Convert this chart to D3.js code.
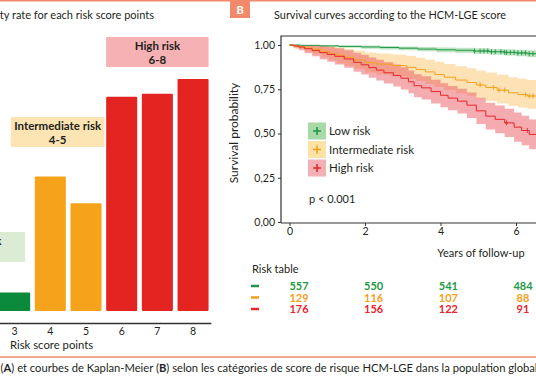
<!DOCTYPE html>
<html>
<head>
<meta charset="utf-8">
<script src="https://cdn.jsdelivr.net/npm/d3@7"></script>
<style>
  html, body { margin: 0; padding: 0; background: #fff; overflow: hidden; }
  svg { display: block; font-family: Lato, 'Open Sans', sans-serif; }
</style>
</head>
<body>
<div id="chart"></div>
<script>
// panel A: rate per risk score point
const scorePoints = ['3', '4', '5', '6', '7', '8'];
const mortalityRate = [2.5, 18.1, 14.5, 28.8, 29.2, 31.2];
const scoreGroup = ['low', 'intermediate', 'intermediate', 'high', 'high', 'high'];
const groupNames = ['Low risk', 'Intermediate risk', 'High risk'];
const groupRanges = ['0-3', '4-5', '6-8'];

// panel B: Kaplan-Meier curves (time in years, survival, 95% CI)
const lowTime = [0, 0.3, 0.8, 1.3, 1.9, 2.4, 2.9, 3.4, 3.9, 4.4, 4.9, 5.3, 5.7, 6.0, 6.3, 6.6];
const lowSurv = [1, 0.998, 0.995, 0.992, 0.989, 0.986, 0.982, 0.977, 0.973, 0.97, 0.966, 0.962, 0.958, 0.955, 0.951, 0.947];
const lowLower = [1, 0.993, 0.988, 0.984, 0.979, 0.975, 0.97, 0.964, 0.959, 0.955, 0.95, 0.945, 0.94, 0.936, 0.931, 0.926];
const lowUpper = [1, 1, 1, 0.999, 0.997, 0.995, 0.992, 0.989, 0.986, 0.984, 0.981, 0.978, 0.975, 0.973, 0.97, 0.967];
const lowCensor = [4.9, 5.05, 5.15, 5.25, 5.35, 5.45, 5.6, 5.7, 5.75, 5.85, 5.95, 6.05, 6.15, 6.25, 6.35, 6.45, 6.55];

const intTime = [0, 0.15, 0.4, 0.62, 0.85, 1.05, 1.25, 1.45, 1.7, 2.0, 2.3, 2.7, 3.1, 3.35, 3.6, 3.85, 4.1, 4.4, 4.7, 4.95, 5.2, 5.5, 5.8, 6.05, 6.3, 6.6];
const intSurv = [1, 0.992, 0.984, 0.976, 0.965, 0.953, 0.942, 0.93, 0.915, 0.9, 0.892, 0.884, 0.874, 0.862, 0.848, 0.833, 0.818, 0.802, 0.788, 0.774, 0.76, 0.745, 0.73, 0.72, 0.712, 0.706];
const intLower = [1, 0.978, 0.962, 0.948, 0.93, 0.912, 0.897, 0.882, 0.864, 0.845, 0.834, 0.823, 0.81, 0.796, 0.78, 0.763, 0.746, 0.728, 0.713, 0.698, 0.684, 0.67, 0.656, 0.647, 0.64, 0.635];
const intUpper = [1, 1, 1, 1, 0.998, 0.992, 0.985, 0.978, 0.968, 0.958, 0.952, 0.946, 0.938, 0.928, 0.917, 0.905, 0.893, 0.88, 0.868, 0.856, 0.845, 0.832, 0.818, 0.809, 0.802, 0.797];
const intCensor = [5.05, 5.4, 5.55, 5.7, 6.25, 6.35, 6.45];

const highTime = [0, 0.1, 0.25, 0.4, 0.6, 0.8, 1.0, 1.2, 1.45, 1.7, 1.9, 2.1, 2.3, 2.5, 2.75, 2.95, 3.15, 3.3, 3.5, 3.75, 4.0, 4.2, 4.45, 4.7, 4.95, 5.2, 5.45, 5.7, 5.95, 6.15, 6.35, 6.6];
const highSurv = [1, 0.995, 0.988, 0.979, 0.968, 0.957, 0.947, 0.936, 0.921, 0.902, 0.888, 0.872, 0.858, 0.843, 0.828, 0.812, 0.792, 0.77, 0.758, 0.737, 0.716, 0.7, 0.683, 0.66, 0.628, 0.598, 0.58, 0.56, 0.536, 0.517, 0.495, 0.475];
const highLower = [1, 0.985, 0.97, 0.954, 0.936, 0.92, 0.905, 0.89, 0.871, 0.849, 0.833, 0.815, 0.799, 0.783, 0.766, 0.749, 0.728, 0.705, 0.692, 0.67, 0.648, 0.631, 0.613, 0.588, 0.554, 0.522, 0.502, 0.48, 0.454, 0.434, 0.411, 0.389];
const highUpper = [1, 1, 1, 1, 1, 0.994, 0.989, 0.982, 0.971, 0.955, 0.943, 0.929, 0.917, 0.903, 0.89, 0.875, 0.856, 0.835, 0.824, 0.804, 0.784, 0.769, 0.753, 0.732, 0.702, 0.674, 0.658, 0.64, 0.618, 0.6, 0.579, 0.561];
const highCensor = [5.75, 6.3];

const yearTicks = [0, 2, 4, 6, 8];
const survTicks = [0, 0.25, 0.5, 0.75, 1];
const survTickLabels = ['0,00', '0,25', '0,50', '0,75', '1.00'];

const riskTimes = [0, 2, 4, 6];
const lowAtRisk = [557, 550, 541, 484];
const intAtRisk = [129, 116, 107, 88];
const highAtRisk = [176, 156, 122, 91];

const WIDTH = 536;
const HEIGHT = 386;
const frameColor = '#f08a6a';
const inkColor = '#231f20';

const barColor = { low: '#0b8a3b', intermediate: '#f5a31b', high: '#e42421' };
const boxColor = { low: '#dcebd3', intermediate: '#fde5b3', high: '#f5b1b4' };
const lineColor = { low: '#1f9a45', intermediate: '#f6a01a', high: '#e8262b' };
const bandColor = { low: '#5cb868', intermediate: '#fbc56b', high: '#ea5a63' };
const keyColor = { low: '#a9d8a9', intermediate: '#fde2a6', high: '#f4b0b4' };

const svg = d3.select('#chart').append('svg').attr('width', WIDTH).attr('height', HEIGHT);

// frame lines and caption
svg.append('line').attr('x1', 0).attr('x2', WIDTH).attr('y1', 0.75).attr('y2', 0.75)
  .attr('stroke', frameColor).attr('stroke-width', 1.5);
svg.append('line').attr('x1', 0).attr('x2', WIDTH).attr('y1', 357).attr('y2', 357)
  .attr('stroke', frameColor).attr('stroke-width', 1.5);

const caption = svg.append('text').attr('x', 0.5).attr('y', 372)
  .attr('font-size', 11.2).attr('fill', inkColor);
caption.append('tspan').text('(');
caption.append('tspan').attr('font-weight', 700).text('A');
caption.append('tspan').text(') et courbes de Kaplan-Meier (');
caption.append('tspan').attr('font-weight', 700).text('B');
caption.append('tspan').text(') selon les catégories de score de risque HCM-LGE dans la population globale');

// ---------- panel A ----------
const gA = svg.append('g');

gA.append('text').attr('x', 154).attr('y', 19).attr('text-anchor', 'end')
  .attr('font-size', 11).attr('fill', inkColor)
  .text('Mortality rate for each risk score points');

const xBar = d3.scaleBand().domain(scorePoints).range([-3.2, 210.9])
  .paddingInner(0.13).paddingOuter(0.065);
const yBar = d3.scaleLinear().domain([0, 32]).range([311, 73]);

const barData = scorePoints.map((p, i) => ({ point: p, value: mortalityRate[i], group: scoreGroup[i] }));

gA.append('g').selectAll('rect').data(barData).join('rect')
  .attr('x', (d) => xBar(d.point))
  .attr('y', (d) => yBar(d.value))
  .attr('width', xBar.bandwidth())
  .attr('height', (d) => yBar(0) - yBar(d.value))
  .attr('rx', 1)
  .attr('fill', (d) => barColor[d.group]);

const axisA = gA.append('g').attr('transform', 'translate(0, 323)')
  .call(d3.axisBottom(xBar).tickSize(0).tickPadding(5));
axisA.select('.domain').attr('stroke', '#333').attr('stroke-width', 1.3);
axisA.selectAll('text').attr('font-size', 10.5).attr('fill', inkColor).attr('font-family', 'Lato');

gA.append('text').attr('x', 10).attr('y', 349).attr('font-size', 11.3).attr('fill', inkColor)
  .text('Risk score points');

// group boxes: [left, right, top] built from the bar scale
const groupBoxes = [
  { key: 'low', x0: xBar('3') - 64, x1: xBar('3') + 26, top: 232 },
  { key: 'intermediate', x0: xBar('4') - 24, x1: xBar('5') + xBar.bandwidth() + 3, top: 117 },
  { key: 'high', x0: xBar('6'), x1: xBar('8') + xBar.bandwidth(), top: 37 },
];

groupBoxes.forEach((b, i) => {
  const g = gA.append('g');
  g.append('rect').attr('x', b.x0).attr('y', b.top).attr('width', b.x1 - b.x0).attr('height', 30)
    .attr('fill', boxColor[b.key]);
  const cx = (b.x0 + b.x1) / 2;
  g.append('text').attr('x', cx).attr('y', b.top + 13).attr('text-anchor', 'middle')
    .attr('font-size', 11.5).attr('font-weight', 700).attr('fill', inkColor).text(groupNames[i]);
  g.append('text').attr('x', cx).attr('y', b.top + 27).attr('text-anchor', 'middle')
    .attr('font-size', 11.5).attr('font-weight', 700).attr('fill', inkColor).text(groupRanges[i]);
});

// ---------- panel B ----------
const gB = svg.append('g');

gB.append('rect').attr('x', 230).attr('y', 0).attr('width', 20).attr('height', 18).attr('fill', frameColor);
gB.append('text').attr('x', 240).attr('y', 13.5).attr('text-anchor', 'middle')
  .attr('font-size', 11).attr('font-weight', 700).attr('fill', '#fff').text('B');

gB.append('text').attr('x', 390).attr('y', 19).attr('text-anchor', 'middle')
  .attr('font-size', 10.9).attr('fill', inkColor)
  .text('Survival curves according to the HCM-LGE score');

const xT = d3.scaleLinear().domain([0, 8]).range([289.5, 591.5]);
const yS = d3.scaleLinear().domain([0, 1]).range([222, 45]);
const plotLeft = 281;
const plotTop = 36;

const series = [
  { key: 'low', time: lowTime, surv: lowSurv, lo: lowLower, hi: lowUpper, censor: lowCensor },
  { key: 'intermediate', time: intTime, surv: intSurv, lo: intLower, hi: intUpper, censor: intCensor },
  { key: 'high', time: highTime, surv: highSurv, lo: highLower, hi: highUpper, censor: highCensor },
].map((s) => ({ ...s, points: s.time.map((t, i) => ({ t, s: s.surv[i], lo: s.lo[i], hi: s.hi[i] })) }));

const band = d3.area().curve(d3.curveStepAfter)
  .x((d) => xT(d.t)).y0((d) => yS(d.lo)).y1((d) => yS(d.hi));
const line = d3.line().curve(d3.curveStepAfter)
  .x((d) => xT(d.t)).y((d) => yS(d.s));

gB.append('g').selectAll('path').data(series).join('path')
  .attr('d', (d) => band(d.points))
  .attr('fill', (d) => bandColor[d.key])
  .attr('fill-opacity', (d) => (d.key === 'low' ? 0.4 : 0.5));

gB.append('g').selectAll('path').data(series).join('path')
  .attr('d', (d) => line(d.points))
  .attr('fill', 'none')
  .attr('stroke', (d) => lineColor[d.key])
  .attr('stroke-width', 1);

const bisect = d3.bisector((d) => d.t).right;
series.forEach((s) => {
  gB.append('g').selectAll('path').data(s.censor).join('path')
    .attr('d', (t) => {
      const p = s.points[Math.max(0, bisect(s.points, t) - 1)];
      const cx = xT(t);
      const cy = yS(p.s);
      return `M${cx},${cy - 2.5}V${cy + 2.5}M${cx - 1.5},${cy}H${cx + 1.5}`;
    })
    .attr('stroke', lineColor[s.key])
    .attr('stroke-width', 0.9);
});

// frame
gB.append('path').attr('d', `M${WIDTH},${plotTop}H${plotLeft}V223`)
  .attr('fill', 'none').attr('stroke', '#333').attr('stroke-width', 1.2);

const axisY = gB.append('g').attr('transform', `translate(${plotLeft}, 0)`)
  .call(d3.axisLeft(yS).tickValues(survTicks).tickSize(3).tickPadding(3)
    .tickFormat((d, i) => survTickLabels[i]));
axisY.select('.domain').remove();
axisY.selectAll('line').attr('stroke', '#333');
axisY.selectAll('text').attr('font-size', 10.5).attr('fill', inkColor).attr('font-family', 'Lato');

const axisX = gB.append('g').attr('transform', 'translate(0, 223)')
  .call(d3.axisBottom(xT).tickValues(yearTicks).tickSize(3).tickPadding(2).tickFormat(d3.format('d')));
axisX.select('.domain').attr('d', `M${plotLeft},0H${WIDTH + 60}`).attr('stroke', '#333').attr('stroke-width', 1.2);
axisX.selectAll('line').attr('stroke', '#333');
axisX.selectAll('text').attr('font-size', 10.5).attr('fill', inkColor).attr('font-family', 'Lato');

gB.append('text').attr('transform', 'translate(238, 133) rotate(-90)').attr('text-anchor', 'middle')
  .attr('font-size', 12).attr('fill', inkColor).text('Survival probability');

gB.append('text').attr('x', 481).attr('y', 257).attr('text-anchor', 'middle')
  .attr('font-size', 11).attr('fill', inkColor).text('Years of follow-up');

gB.append('text').attr('x', 309).attr('y', 203).attr('font-size', 11).attr('fill', inkColor)
  .text('p < 0.001');

// legend
const legendRows = [131, 149.5, 168];
const legend = gB.append('g').selectAll('g').data(series).join('g')
  .attr('transform', (d, i) => `translate(308, ${legendRows[i]})`);
legend.append('rect').attr('x', 0).attr('y', -8.5).attr('width', 18).attr('height', 17)
  .attr('fill', (d) => keyColor[d.key]);
legend.append('path').attr('d', 'M5,0H13M9,-4V4')
  .attr('stroke', (d) => lineColor[d.key]).attr('stroke-width', 1.6);
legend.append('text').attr('x', 21).attr('y', 4).attr('font-size', 11.5).attr('fill', inkColor)
  .text((d, i) => groupNames[i]);

// risk table
gB.append('text').attr('x', 252).attr('y', 273).attr('font-size', 11).attr('fill', inkColor)
  .text('Risk table');

const tableX = d3.scaleLinear().domain([0, 6]).range([299, 523]);
const tableRows = [
  { key: 'low', counts: lowAtRisk },
  { key: 'intermediate', counts: intAtRisk },
  { key: 'high', counts: highAtRisk },
];
const rowY = [286, 297.5, 309];
tableRows.forEach((r, i) => {
  gB.append('line').attr('x1', 251).attr('x2', 259).attr('y1', rowY[i]).attr('y2', rowY[i])
    .attr('stroke', lineColor[r.key]).attr('stroke-width', 2.5);
  gB.append('g').selectAll('text').data(r.counts).join('text')
    .attr('x', (d, j) => tableX(riskTimes[j]))
    .attr('y', rowY[i] + 4)
    .attr('text-anchor', 'middle')
    .attr('font-size', 11).attr('font-weight', 700)
    .attr('fill', lineColor[r.key])
    .text((d) => d);
});
</script>
</body>
</html>
